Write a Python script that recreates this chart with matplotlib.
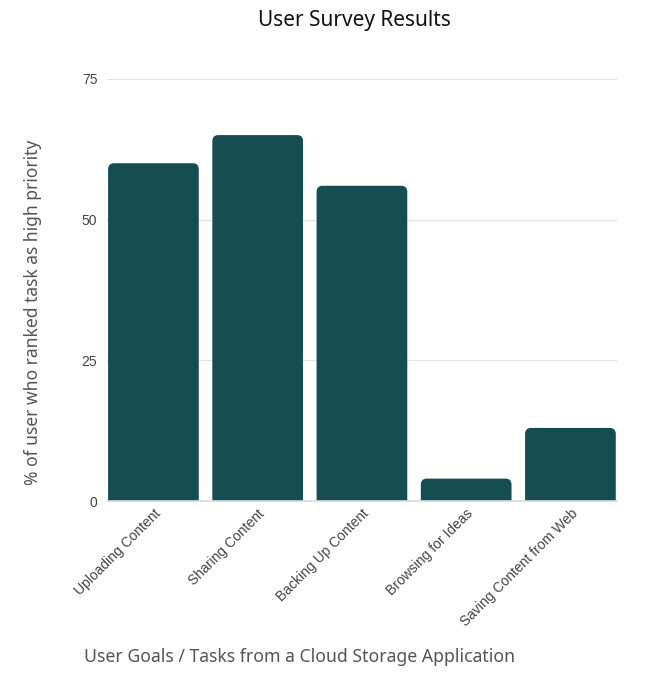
import matplotlib
matplotlib.use("Agg")
import matplotlib.pyplot as plt
from matplotlib.patches import FancyBboxPatch

BAR_COLOR = "#164d52"
TEXT_GRAY = "#444444"

tasks = [
    "Uploading Content",
    "Sharing Content",
    "Backing Up Content",
    "Browsing for Ideas",
    "Saving Content from Web",
]
pct_high_priority = [60, 65, 56, 4, 13]
y_ticks = [0, 25, 50, 75]

fig = plt.figure(figsize=(6.69, 6.97), dpi=100)
ax = fig.add_axes([0.16, 0.281, 0.762, 0.606])

x = list(range(len(tasks)))
bars = ax.bar(x, pct_high_priority, width=0.87, color="none", edgecolor="none")

ax.set_xlim(-0.445, len(tasks) - 0.555)
ax.set_ylim(0, 75)

# rounded tops: px-per-unit ratio so corners look round
bbox = ax.get_window_extent()
px_x = bbox.width / (ax.get_xlim()[1] - ax.get_xlim()[0])
px_y = bbox.height / (ax.get_ylim()[1] - ax.get_ylim()[0])
r = 6 / px_x
aspect = px_x / px_y
below = 2  # push rounded bottom under the axis so it gets clipped square
for b in bars:
    x0, w, h = b.get_x(), b.get_width(), b.get_height()
    p = FancyBboxPatch((x0, -below), w, h + below,
                       boxstyle=f"round,pad=0,rounding_size={r}",
                       mutation_aspect=aspect,
                       facecolor=BAR_COLOR, edgecolor="none", zorder=3)
    ax.add_patch(p)
    p.set_clip_path(ax.patch)

ax.set_yticks(y_ticks)
ax.set_yticklabels([str(t) for t in y_ticks], fontfamily="Liberation Sans",
                   fontsize=10, color=TEXT_GRAY)
ax.yaxis.grid(True, color="#e3e3e3", linewidth=0.9)
ax.set_axisbelow(True)
ax.tick_params(axis="both", length=0, pad=7)

ax.set_xticks(x)
ax.set_xticklabels(tasks, rotation=45, ha="right", rotation_mode="anchor",
                   fontfamily="Liberation Sans", fontsize=10, color=TEXT_GRAY)
ax.tick_params(axis="x", pad=4)

for s in ["top", "right", "left"]:
    ax.spines[s].set_visible(False)
ax.spines["bottom"].set_color("#d8dcdc")
ax.spines["bottom"].set_linewidth(1.2)
ax.spines["bottom"].set_zorder(4)

fig.text(0.53, 0.970, "User Survey Results", ha="center", va="center",
         fontfamily="Noto Sans", fontsize=15, color="#111111")
fig.text(0.049, 0.552, "% of user who ranked task as high priority",
         rotation=90, ha="center", va="center",
         fontfamily="Noto Sans", fontsize=12.6, color="#555555")
fig.text(0.448, 0.057, "User Goals / Tasks from a Cloud Storage Application",
         ha="center", va="center",
         fontfamily="Noto Sans", fontsize=12.7, color="#555555")

fig.savefig("out.png", dpi=100, facecolor="white")
